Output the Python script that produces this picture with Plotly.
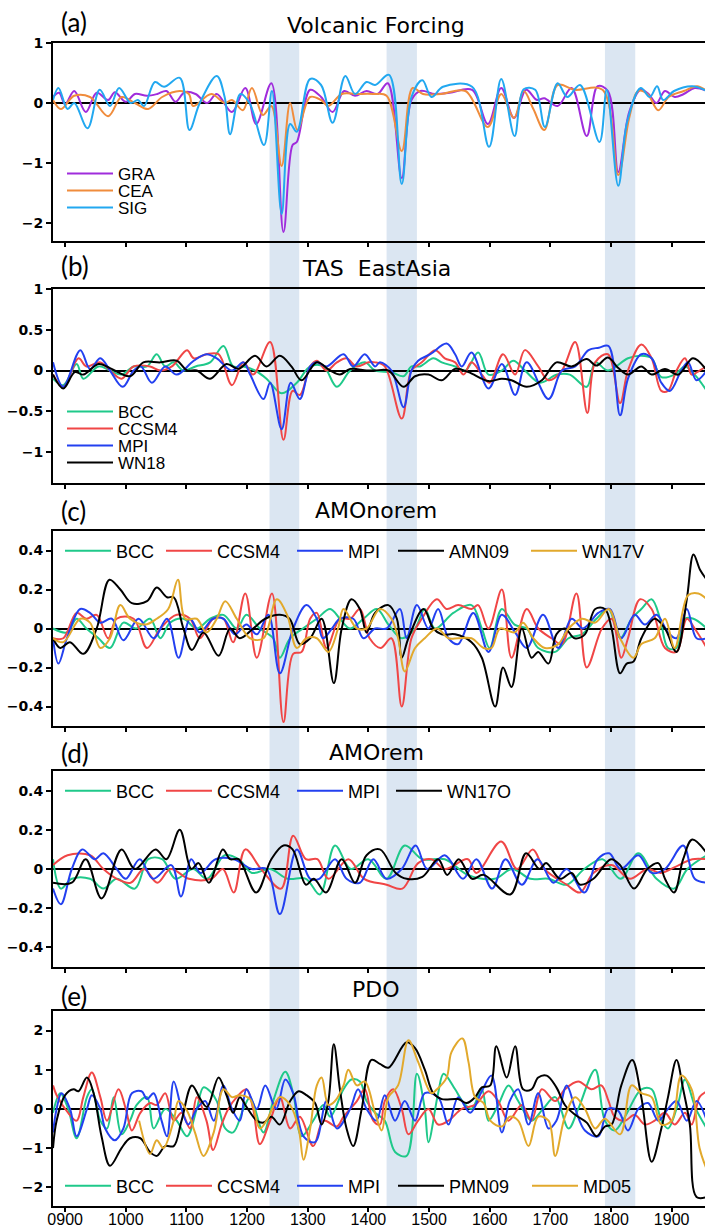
import plotly.graph_objects as go

# ---------------- data ----------------
BAND_START = [1237, 1430, 1790]
BAND_END = [1286, 1480, 1840]

X_TICKS = [900, 1000, 1100, 1200, 1300, 1400, 1500, 1600, 1700, 1800, 1900]
X_TICKTEXT = ["0900", "1000", "1100", "1200", "1300", "1400", "1500", "1600", "1700", "1800", "1900"]

# (a) Volcanic forcing
A_GRA_YR = [880, 890, 900, 915, 934, 952, 971, 982, 1000, 1015, 1035, 1052, 1067, 1082, 1097, 1115, 1134, 1150, 1175, 1197, 1215, 1240, 1260, 1275, 1282, 1304, 1322, 1341, 1360, 1378, 1397, 1415, 1432, 1455, 1471, 1486, 1510, 1534, 1571, 1597, 1619, 1640, 1660, 1678, 1690, 1712, 1735, 1760, 1778, 1795, 1812, 1830, 1849, 1862, 1875, 1889, 1905, 1920, 1938, 1958]
A_GRA = [0.10, 0.17, -0.02, 0.20, -0.15, 0.17, 0.05, 0.18, 0.02, 0.15, 0.12, 0.15, 0.20, 0.02, 0.18, 0.15, 0.00, 0.15, -0.15, 0.25, -0.35, 0.33, -2.15, -0.70, -0.65, 0.22, 0.10, -0.15, 0.20, 0.12, 0.20, 0.15, 0.33, -1.25, 0.05, 0.20, 0.15, 0.17, 0.22, -0.35, 0.25, -0.25, 0.22, 0.05, 0.08, -0.05, 0.25, -0.55, 0.28, 0.20, -1.15, -0.15, 0.22, 0.15, 0.00, 0.20, 0.10, 0.15, 0.25, 0.20]
A_CEA_YR = [880, 893, 915, 941, 971, 993, 1015, 1037, 1060, 1089, 1104, 1111, 1141, 1163, 1175, 1193, 1208, 1226, 1240, 1257, 1271, 1283, 1304, 1322, 1334, 1356, 1380, 1408, 1430, 1455, 1473, 1490, 1520, 1560, 1597, 1619, 1640, 1656, 1672, 1690, 1712, 1740, 1786, 1812, 1830, 1845, 1860, 1878, 1895, 1920, 1942, 1958]
A_CEA = [0.05, -0.10, 0.12, 0.10, -0.22, 0.10, 0.00, -0.10, 0.10, 0.20, 0.15, -0.05, 0.15, 0.00, 0.05, -0.12, 0.25, -0.20, -0.05, -1.05, 0.00, -0.45, 0.10, 0.05, -0.05, 0.15, 0.15, 0.15, 0.12, -0.80, 0.25, 0.15, 0.15, 0.20, -0.40, 0.15, -0.25, 0.20, -0.10, -0.45, 0.30, 0.22, 0.22, -1.20, -0.25, 0.20, 0.15, -0.12, 0.10, 0.20, 0.28, 0.20]
A_SIG_YR = [880, 889, 904, 915, 937, 957, 974, 989, 1008, 1020, 1030, 1048, 1063, 1089, 1105, 1122, 1150, 1163, 1172, 1189, 1204, 1228, 1241, 1257, 1271, 1282, 1304, 1322, 1341, 1362, 1378, 1397, 1411, 1434, 1455, 1471, 1489, 1504, 1523, 1571, 1599, 1619, 1641, 1656, 1675, 1691, 1712, 1728, 1749, 1781, 1793, 1812, 1827, 1849, 1864, 1876, 1886, 1904, 1934, 1958]
A_SIG = [0.05, 0.25, -0.10, 0.00, -0.42, 0.22, -0.05, 0.25, 0.00, 0.05, -0.05, 0.35, 0.27, 0.42, -0.45, 0.00, 0.45, 0.10, -0.52, 0.15, 0.00, -0.70, 0.20, -1.85, -0.35, -0.48, 0.40, 0.30, -0.33, 0.45, 0.15, 0.35, 0.30, 0.47, -1.35, 0.10, 0.38, 0.10, 0.27, 0.27, -0.73, 0.40, -0.55, 0.23, 0.22, -0.40, 0.33, 0.10, 0.30, -0.65, 0.22, -1.38, -0.30, 0.25, 0.10, 0.28, 0.05, 0.20, 0.28, 0.20]

# (b) TAS East Asia
B_BCC_YR = [880, 897, 919, 930, 955, 974, 993, 1013, 1035, 1051, 1065, 1079, 1095, 1115, 1139, 1161, 1177, 1194, 1213, 1232, 1257, 1282, 1304, 1326, 1348, 1370, 1394, 1411, 1438, 1458, 1471, 1485, 1507, 1521, 1543, 1560, 1581, 1598, 1620, 1639, 1658, 1683, 1711, 1732, 1760, 1774, 1795, 1828, 1850, 1867, 1883, 1905, 1922, 1938, 1958]
B_BCC = [-0.10, -0.18, 0.08, -0.10, 0.05, 0.00, -0.05, 0.05, 0.05, 0.20, 0.05, 0.10, 0.00, 0.05, 0.10, 0.30, 0.05, 0.05, 0.00, -0.10, -0.28, -0.15, 0.05, 0.05, -0.20, 0.00, 0.10, 0.00, -0.02, -0.07, 0.05, 0.05, 0.15, 0.10, 0.05, 0.00, 0.22, -0.05, 0.00, 0.12, 0.00, -0.15, -0.05, -0.05, -0.20, 0.10, 0.00, 0.15, 0.18, 0.15, -0.08, -0.05, 0.05, -0.05, -0.25]
B_CCSM4_YR = [880, 897, 922, 935, 958, 974, 993, 1013, 1040, 1057, 1076, 1101, 1112, 1133, 1153, 1175, 1194, 1210, 1238, 1260, 1275, 1287, 1304, 1315, 1331, 1348, 1364, 1380, 1400, 1411, 1427, 1455, 1471, 1488, 1510, 1526, 1543, 1557, 1570, 1587, 1600, 1622, 1642, 1658, 1680, 1697, 1719, 1741, 1761, 1774, 1795, 1815, 1828, 1850, 1867, 1883, 1894, 1908, 1922, 1933, 1946, 1958]
B_CCSM4 = [-0.05, -0.20, 0.15, 0.05, 0.10, 0.00, -0.10, 0.05, 0.05, 0.00, 0.05, 0.25, 0.15, 0.20, 0.20, -0.18, 0.10, -0.05, 0.35, -0.85, -0.25, -0.30, 0.05, 0.12, 0.00, 0.10, 0.15, 0.05, 0.10, 0.10, 0.05, -0.59, 0.00, 0.10, 0.25, 0.15, 0.10, -0.05, 0.10, -0.05, -0.15, 0.20, -0.05, 0.25, 0.05, -0.12, 0.00, 0.35, -0.52, 0.10, 0.20, -0.40, 0.00, 0.32, 0.15, -0.25, -0.25, 0.00, 0.15, -0.05, 0.00, 0.05]
B_MPI_YR = [880, 897, 925, 941, 958, 974, 995, 1013, 1025, 1043, 1065, 1084, 1112, 1133, 1150, 1175, 1194, 1205, 1227, 1238, 1257, 1272, 1287, 1304, 1315, 1331, 1359, 1375, 1394, 1411, 1419, 1438, 1458, 1471, 1482, 1502, 1529, 1543, 1554, 1570, 1598, 1620, 1642, 1661, 1697, 1719, 1741, 1763, 1780, 1796, 1815, 1828, 1850, 1867, 1883, 1897, 1916, 1927, 1941, 1958]
B_MPI = [0.10, -0.20, 0.25, 0.02, 0.15, 0.00, -0.20, 0.00, 0.05, -0.15, 0.05, -0.05, 0.12, 0.20, 0.15, 0.00, 0.10, -0.05, -0.35, -0.15, -0.72, -0.15, -0.35, 0.05, 0.10, 0.05, 0.20, 0.05, 0.20, 0.05, 0.10, 0.00, -0.45, 0.00, 0.12, 0.20, 0.33, 0.20, 0.05, 0.22, -0.22, 0.08, -0.30, 0.10, -0.35, 0.00, 0.05, 0.25, 0.28, 0.30, -0.55, -0.10, 0.20, 0.15, -0.15, -0.25, 0.00, 0.10, -0.12, 0.00]
B_WN18_YR = [880, 897, 916, 930, 955, 974, 1007, 1029, 1057, 1084, 1101, 1117, 1139, 1166, 1186, 1213, 1232, 1254, 1273, 1290, 1315, 1337, 1353, 1370, 1397, 1411, 1433, 1458, 1477, 1499, 1521, 1543, 1565, 1598, 1620, 1636, 1661, 1686, 1710, 1735, 1760, 1776, 1795, 1812, 1828, 1850, 1867, 1889, 1911, 1935, 1958]
B_WN18 = [-0.05, -0.22, -0.02, -0.05, 0.08, 0.03, -0.07, 0.10, 0.10, 0.12, 0.00, 0.00, -0.10, 0.08, 0.02, 0.18, 0.05, 0.18, 0.05, -0.12, 0.10, 0.00, -0.05, 0.02, 0.00, 0.00, 0.00, -0.20, -0.07, -0.05, -0.12, 0.02, -0.02, -0.13, -0.10, -0.12, -0.20, -0.12, 0.10, 0.05, 0.14, 0.06, 0.16, 0.03, -0.05, 0.05, -0.05, 0.02, -0.05, 0.15, 0.00]

# (c) AMO no-rem
C_BCC_YR = [880, 903, 919, 935, 955, 974, 996, 1017, 1040, 1057, 1073, 1095, 1117, 1139, 1161, 1183, 1199, 1221, 1243, 1254, 1271, 1292, 1315, 1337, 1353, 1370, 1392, 1414, 1433, 1455, 1477, 1493, 1510, 1540, 1570, 1587, 1600, 1620, 1641, 1661, 1680, 1708, 1730, 1752, 1776, 1796, 1815, 1834, 1850, 1867, 1881, 1894, 1908, 1922, 1936, 1958]
C_BCC = [0.00, -0.02, 0.05, 0.00, -0.05, -0.10, 0.03, 0.00, 0.05, -0.05, 0.03, 0.05, 0.00, 0.05, 0.07, 0.00, 0.07, 0.00, -0.05, -0.15, -0.05, 0.00, 0.05, 0.10, 0.05, 0.00, 0.05, 0.10, 0.02, -0.05, 0.00, 0.10, 0.00, 0.08, 0.12, 0.00, -0.10, 0.10, 0.02, 0.00, -0.10, -0.12, -0.05, -0.03, 0.05, 0.10, -0.05, 0.05, 0.10, 0.15, 0.05, -0.10, -0.10, 0.05, 0.05, 0.00]
C_CCSM4_YR = [880, 897, 919, 935, 952, 971, 985, 1013, 1035, 1057, 1084, 1106, 1122, 1144, 1161, 1177, 1197, 1216, 1241, 1260, 1276, 1290, 1304, 1315, 1331, 1353, 1370, 1386, 1402, 1420, 1438, 1455, 1471, 1488, 1513, 1529, 1548, 1570, 1581, 1598, 1620, 1636, 1661, 1680, 1702, 1719, 1743, 1760, 1785, 1801, 1817, 1828, 1848, 1867, 1889, 1908, 1925, 1938, 1958]
C_CCSM4 = [-0.05, -0.05, 0.08, 0.05, 0.07, -0.05, 0.05, 0.05, -0.10, 0.00, 0.07, 0.05, -0.05, 0.05, 0.05, -0.07, 0.18, -0.15, 0.18, -0.48, -0.13, -0.12, 0.05, 0.08, -0.10, 0.05, 0.05, 0.10, -0.05, -0.10, -0.05, -0.40, -0.05, 0.05, 0.15, 0.10, 0.12, 0.10, 0.12, 0.00, 0.20, -0.15, 0.10, 0.00, -0.05, -0.08, 0.18, -0.20, 0.00, 0.05, -0.15, -0.05, 0.15, 0.10, -0.10, -0.12, 0.05, 0.00, -0.10]
C_MPI_YR = [880, 889, 903, 925, 941, 958, 977, 996, 1021, 1046, 1068, 1087, 1106, 1122, 1144, 1161, 1180, 1199, 1216, 1235, 1254, 1276, 1298, 1315, 1325, 1340, 1353, 1375, 1392, 1411, 1430, 1452, 1463, 1480, 1499, 1515, 1532, 1548, 1573, 1598, 1620, 1642, 1661, 1688, 1713, 1735, 1754, 1779, 1798, 1817, 1839, 1856, 1875, 1894, 1908, 1925, 1941, 1958]
C_MPI = [-0.05, -0.18, -0.05, 0.10, 0.08, 0.03, 0.05, -0.06, 0.05, -0.05, 0.05, -0.15, 0.05, -0.02, 0.05, 0.05, -0.03, 0.02, -0.03, 0.07, -0.23, 0.00, 0.12, 0.05, -0.05, 0.00, 0.05, 0.05, -0.05, 0.00, 0.00, 0.10, -0.05, 0.12, 0.00, 0.10, -0.05, -0.08, 0.08, -0.12, 0.07, -0.02, -0.10, 0.07, -0.10, 0.05, 0.00, 0.08, 0.10, -0.05, 0.07, 0.02, 0.07, -0.02, -0.05, 0.10, -0.05, -0.05]
C_AMN09_YR = [880, 892, 908, 930, 952, 973, 991, 1010, 1035, 1051, 1068, 1079, 1095, 1109, 1128, 1153, 1172, 1188, 1210, 1230, 1254, 1270, 1287, 1304, 1323, 1343, 1356, 1372, 1386, 1397, 1411, 1433, 1447, 1455, 1466, 1491, 1507, 1521, 1543, 1570, 1587, 1609, 1622, 1636, 1653, 1669, 1680, 1697, 1710, 1724, 1740, 1757, 1774, 1790, 1801, 1815, 1826, 1837, 1850, 1872, 1889, 1908, 1925, 1936, 1947, 1958]
C_AMN09 = [-0.05, -0.10, -0.07, -0.13, 0.00, 0.25, 0.20, 0.13, 0.14, 0.21, 0.16, 0.16, 0.00, -0.11, -0.02, -0.14, 0.00, -0.05, 0.00, 0.05, 0.07, 0.05, -0.08, -0.05, 0.05, -0.28, 0.00, 0.15, 0.10, -0.02, 0.08, 0.12, 0.05, -0.15, -0.05, 0.10, 0.00, -0.03, -0.03, -0.07, -0.15, -0.40, -0.20, -0.30, 0.00, -0.15, -0.12, -0.18, -0.03, 0.00, -0.05, -0.03, 0.10, 0.10, 0.00, -0.23, -0.18, -0.17, -0.05, 0.05, 0.00, -0.12, 0.15, 0.38, 0.30, 0.25]
C_WN17V_YR = [880, 897, 925, 941, 958, 974, 991, 1007, 1032, 1051, 1070, 1086, 1098, 1117, 1133, 1150, 1164, 1183, 1205, 1227, 1249, 1266, 1282, 1298, 1315, 1334, 1350, 1359, 1381, 1397, 1419, 1438, 1449, 1460, 1477, 1493, 1513, 1532, 1548, 1570, 1590, 1603, 1617, 1641, 1655, 1672, 1691, 1713, 1730, 1752, 1774, 1796, 1815, 1837, 1850, 1872, 1889, 1905, 1927, 1944, 1958]
C_WN17V = [-0.05, -0.07, 0.05, 0.03, -0.10, -0.05, 0.12, 0.05, 0.02, 0.05, 0.10, 0.25, 0.05, 0.05, -0.02, 0.05, 0.14, 0.05, -0.05, -0.05, 0.15, 0.07, -0.10, -0.05, -0.05, -0.12, 0.00, 0.10, 0.00, 0.00, 0.10, 0.05, -0.05, -0.22, -0.10, -0.05, 0.00, -0.05, -0.05, -0.05, -0.10, -0.10, 0.00, -0.02, 0.03, -0.05, -0.10, -0.08, 0.00, 0.05, 0.03, 0.10, -0.05, -0.15, -0.08, -0.05, 0.05, -0.10, 0.17, 0.18, 0.15]

# (d) AMO rem
D_BCC_YR = [880, 893, 911, 941, 963, 985, 1015, 1037, 1060, 1082, 1111, 1134, 1163, 1186, 1208, 1238, 1267, 1297, 1320, 1345, 1371, 1400, 1430, 1460, 1489, 1526, 1564, 1608, 1637, 1667, 1697, 1727, 1756, 1786, 1816, 1845, 1875, 1904, 1926, 1958]
D_BCC = [0.05, -0.10, -0.05, -0.05, -0.10, -0.05, -0.10, 0.05, 0.05, -0.05, 0.00, -0.05, 0.07, 0.05, -0.02, 0.00, -0.05, -0.05, -0.13, 0.12, 0.00, 0.05, -0.05, 0.12, 0.05, 0.05, -0.03, -0.05, 0.00, -0.05, -0.05, -0.08, 0.00, 0.05, -0.05, 0.08, -0.05, -0.10, 0.00, 0.07]
D_CCSM4_YR = [880, 904, 941, 963, 985, 1008, 1030, 1052, 1074, 1104, 1141, 1160, 1178, 1197, 1223, 1256, 1276, 1297, 1316, 1334, 1367, 1393, 1430, 1456, 1482, 1504, 1526, 1564, 1578, 1619, 1645, 1671, 1690, 1727, 1749, 1771, 1801, 1831, 1860, 1882, 1912, 1934, 1958]
D_CCSM4 = [0.02, 0.07, 0.07, 0.00, -0.05, -0.07, 0.00, -0.07, 0.00, -0.05, -0.05, 0.00, -0.12, 0.10, 0.00, -0.10, 0.17, 0.05, 0.05, -0.05, 0.05, -0.05, -0.08, -0.10, 0.03, 0.05, 0.00, 0.05, -0.02, 0.14, 0.00, 0.10, 0.00, -0.08, -0.12, -0.02, 0.02, -0.05, 0.00, -0.02, 0.02, 0.05, 0.05]
D_MPI_YR = [880, 893, 911, 928, 949, 963, 985, 1000, 1023, 1045, 1075, 1091, 1108, 1123, 1148, 1178, 1208, 1232, 1254, 1282, 1304, 1319, 1345, 1364, 1386, 1408, 1430, 1455, 1478, 1497, 1526, 1556, 1578, 1604, 1626, 1653, 1679, 1705, 1727, 1756, 1778, 1797, 1816, 1845, 1867, 1889, 1919, 1938, 1958]
D_MPI = [-0.10, -0.18, 0.00, 0.10, 0.05, 0.08, 0.00, -0.05, 0.05, -0.05, 0.02, -0.14, 0.05, -0.02, 0.05, 0.05, 0.00, 0.00, -0.23, 0.10, -0.05, -0.05, 0.05, -0.05, -0.07, 0.05, -0.05, 0.00, 0.12, 0.00, 0.07, -0.05, 0.05, -0.10, 0.05, -0.08, 0.05, -0.07, 0.00, -0.12, 0.05, 0.08, 0.00, 0.07, -0.02, 0.00, 0.12, -0.05, -0.07]
D_WN17O_YR = [880, 911, 934, 960, 993, 1015, 1049, 1067, 1089, 1108, 1120, 1137, 1160, 1172, 1186, 1215, 1240, 1260, 1275, 1297, 1310, 1330, 1356, 1378, 1397, 1419, 1445, 1463, 1489, 1515, 1530, 1549, 1571, 1590, 1634, 1660, 1682, 1693, 1716, 1735, 1749, 1771, 1800, 1815, 1838, 1860, 1878, 1889, 1904, 1919, 1934, 1958]
D_WN17O = [-0.07, -0.07, 0.05, -0.15, 0.10, 0.00, 0.10, 0.05, 0.20, 0.00, 0.03, -0.07, 0.10, 0.05, 0.05, -0.12, 0.05, 0.12, 0.10, -0.08, -0.05, -0.12, 0.05, -0.07, 0.07, 0.10, -0.02, -0.05, -0.04, 0.05, -0.03, 0.05, -0.05, -0.03, -0.13, 0.08, 0.00, 0.03, -0.05, -0.02, -0.08, -0.05, 0.05, 0.02, -0.10, 0.00, 0.03, -0.05, -0.12, 0.05, 0.15, 0.08]

# (e) PDO
E_BCC_YR = [880, 892, 905, 919, 936, 944, 958, 969, 980, 993, 1007, 1018, 1035, 1046, 1065, 1084, 1101, 1117, 1128, 1139, 1150, 1164, 1177, 1194, 1205, 1227, 1243, 1263, 1276, 1290, 1309, 1326, 1337, 1359, 1372, 1386, 1397, 1411, 1427, 1444, 1463, 1480, 1493, 1499, 1515, 1524, 1543, 1555, 1570, 1587, 1598, 1614, 1631, 1647, 1669, 1688, 1708, 1730, 1746, 1774, 1790, 1806, 1823, 1850, 1867, 1883, 1894, 1910, 1922, 1940, 1958]
E_BCC = [-0.10, 0.40, 0.00, -0.75, 0.30, 0.50, -0.30, -0.50, 0.30, -0.65, -0.30, 0.10, 0.30, -0.50, 0.00, -0.30, -0.70, 0.00, 0.55, 0.45, 0.20, -0.50, -0.60, 0.00, 0.30, -0.60, 0.20, 0.95, 0.40, -0.70, -0.30, 0.10, -0.20, 0.50, 0.75, 0.70, 0.20, -0.10, -0.30, -1.10, -1.20, 0.90, 0.00, -0.85, 0.40, 0.90, 0.50, 0.20, 0.00, 0.50, -0.30, 0.10, 0.60, 0.20, -0.30, 0.00, 0.30, -0.50, 0.00, 1.00, -0.30, -0.55, -0.20, 0.50, 0.50, -0.30, -0.50, 0.10, 0.75, 0.00, -0.50]
E_CCSM4_YR = [880, 886, 905, 919, 930, 944, 958, 969, 988, 1000, 1010, 1024, 1040, 1051, 1065, 1079, 1092, 1106, 1117, 1133, 1144, 1158, 1169, 1183, 1199, 1210, 1221, 1238, 1254, 1271, 1287, 1309, 1326, 1348, 1359, 1381, 1394, 1408, 1419, 1427, 1441, 1455, 1466, 1482, 1499, 1515, 1532, 1554, 1576, 1598, 1614, 1631, 1653, 1669, 1686, 1708, 1724, 1746, 1768, 1784, 1796, 1806, 1823, 1839, 1856, 1872, 1889, 1905, 1922, 1933, 1946, 1958]
E_CCSM4 = [0.60, 0.35, -0.10, -0.30, 0.30, 0.93, 0.30, -0.30, 0.50, 0.00, -0.55, -0.10, 0.15, 0.10, 0.40, -0.30, -0.10, -0.50, 0.30, -0.30, -1.05, -0.40, 0.00, 0.30, 0.50, 0.00, -0.90, -0.30, 0.30, -0.50, -0.20, -0.95, -0.30, -0.45, -0.20, 0.20, 0.50, -0.30, -0.40, 0.20, 0.50, 0.00, -0.65, -0.30, 0.00, -0.40, -0.30, 0.00, 0.10, 0.45, 0.20, -0.30, 0.10, -0.30, 0.50, 0.20, 0.50, 0.70, 0.50, 0.60, 0.20, -0.20, -0.30, -0.15, -0.40, -0.30, -0.10, -0.40, -0.10, -0.40, 0.30, 0.45]
E_MPI_YR = [880, 886, 894, 908, 919, 936, 944, 958, 966, 982, 996, 1010, 1026, 1035, 1046, 1059, 1068, 1079, 1092, 1103, 1117, 1131, 1145, 1161, 1175, 1188, 1199, 1216, 1230, 1248, 1263, 1276, 1293, 1312, 1331, 1348, 1370, 1383, 1397, 1413, 1427, 1444, 1460, 1477, 1493, 1515, 1532, 1548, 1568, 1587, 1603, 1620, 1633, 1647, 1664, 1680, 1697, 1710, 1727, 1741, 1757, 1779, 1795, 1812, 1828, 1845, 1861, 1878, 1894, 1908, 1925, 1941, 1958]
E_MPI = [-0.60, 0.00, 0.40, 0.00, -0.70, 0.00, 0.35, 0.00, -0.50, -0.80, -0.50, 0.40, 0.45, 0.25, 0.40, -0.30, -0.70, 0.70, 0.00, -0.40, 0.00, 0.20, -0.30, 0.60, 0.00, -0.30, 0.50, 0.00, 0.60, 0.00, 0.75, 0.40, -0.70, -0.85, 0.20, -0.50, 0.00, 0.50, 0.00, -0.30, 0.35, -0.30, 0.20, -0.30, 0.40, 0.30, -0.40, 0.30, -0.10, 0.45, 0.85, -0.60, 0.20, 0.50, -0.40, 0.40, -0.50, -0.30, 0.60, 0.00, -0.55, -0.70, 0.00, -0.05, -0.55, 0.00, 0.15, -0.30, 0.00, 0.20, -0.30, 0.20, -0.30]
E_PMN09_YR = [880, 886, 900, 914, 922, 936, 947, 960, 974, 993, 1007, 1024, 1040, 1051, 1065, 1079, 1092, 1109, 1123, 1134, 1153, 1166, 1177, 1188, 1199, 1216, 1227, 1240, 1254, 1271, 1285, 1298, 1312, 1323, 1334, 1343, 1353, 1364, 1375, 1389, 1405, 1419, 1433, 1463, 1477, 1493, 1507, 1521, 1548, 1562, 1576, 1587, 1601, 1611, 1628, 1642, 1655, 1669, 1680, 1694, 1710, 1724, 1741, 1760, 1776, 1790, 1801, 1817, 1835, 1850, 1867, 1883, 1894, 1908, 1919, 1930, 1941, 1958]
E_PMN09 = [-1.00, -0.30, 0.35, 0.50, 0.45, 0.80, 0.40, -0.70, -1.45, -1.00, -0.75, -0.75, -1.10, -1.20, -0.95, -0.95, -0.30, 0.60, 0.25, 0.05, 0.80, 0.35, -0.10, 0.30, 0.05, -0.30, -0.35, -0.20, -0.40, 0.20, 0.45, 0.35, 0.15, -0.40, 0.20, 1.65, 0.50, -0.50, -0.95, 0.00, 1.25, 1.15, 1.05, 1.70, 1.55, 1.00, 0.40, 0.25, 0.25, 0.15, 0.30, 0.55, 0.60, 1.60, 0.80, 1.60, 0.50, 0.50, 0.80, 0.85, 0.55, 0.10, -0.15, -0.35, -0.70, -0.45, -0.40, 0.60, 1.25, 0.30, -1.35, -0.50, 0.30, 1.25, 0.50, -0.40, -2.25, -2.25]
E_MD05_YR = [1022, 1040, 1051, 1062, 1079, 1087, 1101, 1114, 1128, 1145, 1161, 1175, 1188, 1205, 1221, 1232, 1254, 1271, 1285, 1293, 1304, 1315, 1323, 1334, 1345, 1359, 1367, 1381, 1394, 1411, 1422, 1433, 1449, 1466, 1482, 1504, 1513, 1529, 1537, 1555, 1565, 1576, 1590, 1601, 1620, 1633, 1647, 1664, 1680, 1697, 1708, 1724, 1741, 1757, 1774, 1790, 1815, 1834, 1850, 1867, 1883, 1900, 1916, 1933, 1946, 1958]
E_MD05 = [-0.30, -1.15, -0.80, -1.00, -0.30, 0.20, -0.05, -0.60, -1.20, -0.60, 0.50, 0.30, 0.35, 0.25, -0.50, -0.30, 0.30, 0.10, -0.50, -1.30, -0.50, 0.60, 0.80, 0.10, 0.20, 0.60, 1.00, 0.60, 0.70, -0.10, -0.55, 0.30, 0.60, 1.75, 1.20, 0.40, 0.50, 0.80, 1.45, 1.80, 1.20, 0.30, 0.15, -0.30, -0.45, -0.20, -0.30, -0.95, -0.20, -0.30, -1.20, -0.20, 0.30, 0.00, -0.50, -0.25, -0.65, 0.60, 0.40, 0.30, -0.40, -0.30, 0.85, 0.50, -1.00, -1.55]

# ---------------- styling ----------------
COL_GRA, COL_CEA, COL_SIG = "#a02cdc", "#f08c3c", "#22a8f0"
COL_BCC, COL_CCSM4, COL_MPI, COL_BLK, COL_YEL = "#1fc98a", "#f04646", "#2340f0", "#000000", "#e2a92c"

W, H = 705, 1227
ML = 53
PW = W - ML


def py(px):
    return 1 - px / H


def pxx(px):
    return (px - ML) / PW


# panel pixel extents (top, bottom)
PANELS = [(43, 241), (289, 483), (531, 726), (771, 967), (1011, 1206)]
YRANGES = [[-2.3, 1.0], [-1.38, 1.0], [-0.5, 0.5], [-0.5, 0.5], [-2.48, 2.5]]
YTICKS = [
    ([-2, -1, 0, 1], ["\u22122", "\u22121", "0", "1"]),
    ([-1, -0.5, 0, 0.5, 1], ["\u22121", "\u22120.5", "0", "0.5", "1"]),
    ([-0.4, -0.2, 0, 0.2, 0.4], ["\u22120.4", "\u22120.2", "0", "0.2", "0.4"]),
    ([-0.4, -0.2, 0, 0.2, 0.4], ["\u22120.4", "\u22120.2", "0", "0.2", "0.4"]),
    ([-2, -1, 0, 1, 2], ["\u22122", "\u22121", "0", "1", "2"]),
]
TITLES = ["Volcanic Forcing", "TAS  EastAsia", "AMOnorem", "AMOrem", "PDO"]
TITLE_Y = [25, 268, 511, 752, 989]
LETTERS = ["(a)", "(b)", "(c)", "(d)", "(e)"]
LETTER_Y = [22, 266, 511, 753, 996]

fig = go.Figure()

LEG_FONT = dict(family="Liberation Sans, Arial, sans-serif", size=18, color="black")
legend_layouts = {}
leg_count = [0]


def add(panel, x, y, name, color, leg_x, leg_y, fsize=18):
    leg_count[0] += 1
    n = leg_count[0]
    lname = "legend" if n == 1 else f"legend{n}"
    sfx = "" if panel == 1 else str(panel)
    fig.add_trace(go.Scatter(
        x=x, y=y, name=name, mode="lines",
        line=dict(color=color, width=2, shape="spline", smoothing=1.0),
        xaxis="x" + sfx, yaxis="y" + sfx, legend=lname, showlegend=True,
    ))
    legend_layouts[lname] = dict(
        x=pxx(leg_x), y=py(leg_y), xanchor="left", yanchor="middle",
        bgcolor="rgba(0,0,0,0)", borderwidth=0, font=dict(LEG_FONT, size=fsize),
        itemwidth=46, orientation="v", itemclick=False, itemdoubleclick=False,
    )


LX_V = 62
add(1, A_GRA_YR, A_GRA, "GRA", COL_GRA, LX_V, 174, 17)
add(1, A_CEA_YR, A_CEA, "CEA", COL_CEA, LX_V, 191, 17)
add(1, A_SIG_YR, A_SIG, "SIG", COL_SIG, LX_V, 208, 17)

add(2, B_BCC_YR, B_BCC, "BCC", COL_BCC, LX_V, 412, 17)
add(2, B_CCSM4_YR, B_CCSM4, "CCSM4", COL_CCSM4, LX_V, 429, 17)
add(2, B_MPI_YR, B_MPI, "MPI", COL_MPI, LX_V, 446, 17)
add(2, B_WN18_YR, B_WN18, "WN18", COL_BLK, LX_V, 463, 17)

HX = [60, 161, 292, 393, 526]
add(3, C_BCC_YR, C_BCC, "BCC", COL_BCC, HX[0], 551)
add(3, C_CCSM4_YR, C_CCSM4, "CCSM4", COL_CCSM4, HX[1], 551)
add(3, C_MPI_YR, C_MPI, "MPI", COL_MPI, HX[2], 551)
add(3, C_AMN09_YR, C_AMN09, "AMN09", COL_BLK, HX[3], 551)
add(3, C_WN17V_YR, C_WN17V, "WN17V", COL_YEL, HX[4], 551)

add(4, D_BCC_YR, D_BCC, "BCC", COL_BCC, HX[0], 791)
add(4, D_CCSM4_YR, D_CCSM4, "CCSM4", COL_CCSM4, HX[1], 791)
add(4, D_MPI_YR, D_MPI, "MPI", COL_MPI, HX[2], 791)
add(4, D_WN17O_YR, D_WN17O, "WN17O", COL_BLK, HX[3] - 2, 791)

add(5, E_BCC_YR, E_BCC, "BCC", COL_BCC, HX[0], 1186)
add(5, E_CCSM4_YR, E_CCSM4, "CCSM4", COL_CCSM4, HX[1], 1186)
add(5, E_MPI_YR, E_MPI, "MPI", COL_MPI, HX[2], 1186)
add(5, E_PMN09_YR, E_PMN09, "PMN09", COL_BLK, HX[3], 1186)
add(5, E_MD05_YR, E_MD05, "MD05", COL_YEL, HX[4] + 1, 1186)

layout = dict(
    width=W, height=H, margin=dict(l=ML, r=0, t=0, b=0, pad=0, autoexpand=False),
    paper_bgcolor="white", plot_bgcolor="rgba(0,0,0,0)",
    showlegend=True, template="none",
)
layout.update(legend_layouts)

YFONT = dict(family="DejaVu Sans, sans-serif", size=14, color="black", weight="bold")
XFONT = dict(family="Liberation Sans, Arial, sans-serif", size=16, color="black")

for i, (top, bot) in enumerate(PANELS):
    k = i + 1
    sfx = "" if k == 1 else str(k)
    layout["xaxis" + sfx] = dict(
        domain=[0, 1], range=[880, 1955], anchor="y" + sfx,
        showline=True, linecolor="black", linewidth=2, mirror=True,
        ticks="outside", ticklen=4, tickwidth=2, tickcolor="black",
        tickvals=X_TICKS, ticktext=X_TICKTEXT, showticklabels=(k == 5),
        tickfont=XFONT, ticklabelstandoff=-6, showgrid=False, zeroline=False,
        automargin=False, fixedrange=True,
    )
    tv, tt = YTICKS[i]
    layout["yaxis" + sfx] = dict(
        domain=[py(bot), py(top)], range=YRANGES[i], anchor="x" + sfx,
        showline=True, linecolor="black", linewidth=2, mirror=False,
        ticks="outside", ticklen=5, tickwidth=2, tickcolor="black",
        tickvals=tv, ticktext=tt, tickfont=YFONT,
        showgrid=False, zeroline=True, zerolinecolor="black", zerolinewidth=1.6,
        automargin=False, fixedrange=True,
    )

fig.update_layout(**layout)

# shaded volcanic periods spanning all panels
for s, e in zip(BAND_START, BAND_END):
    fig.add_shape(type="rect", xref="x5", yref="paper", x0=s, x1=e,
                  y0=py(PANELS[-1][1]), y1=py(PANELS[0][0]),
                  fillcolor="rgb(219,230,242)", line=dict(width=0), layer="below")

for i in range(5):
    fig.add_annotation(text=TITLES[i], xref="paper", yref="paper", x=pxx(376), y=py(TITLE_Y[i]),
                       xanchor="center", yanchor="middle", showarrow=False,
                       font=dict(family="DejaVu Sans, sans-serif", size=22, color="black"))
    fig.add_annotation(text=LETTERS[i], xref="paper", yref="paper", x=pxx(59), y=py(LETTER_Y[i]),
                       xanchor="left", yanchor="middle", showarrow=False,
                       font=dict(family="Lato, Noto Sans, sans-serif", size=26, color="black"))

fig.write_html("out.html")
